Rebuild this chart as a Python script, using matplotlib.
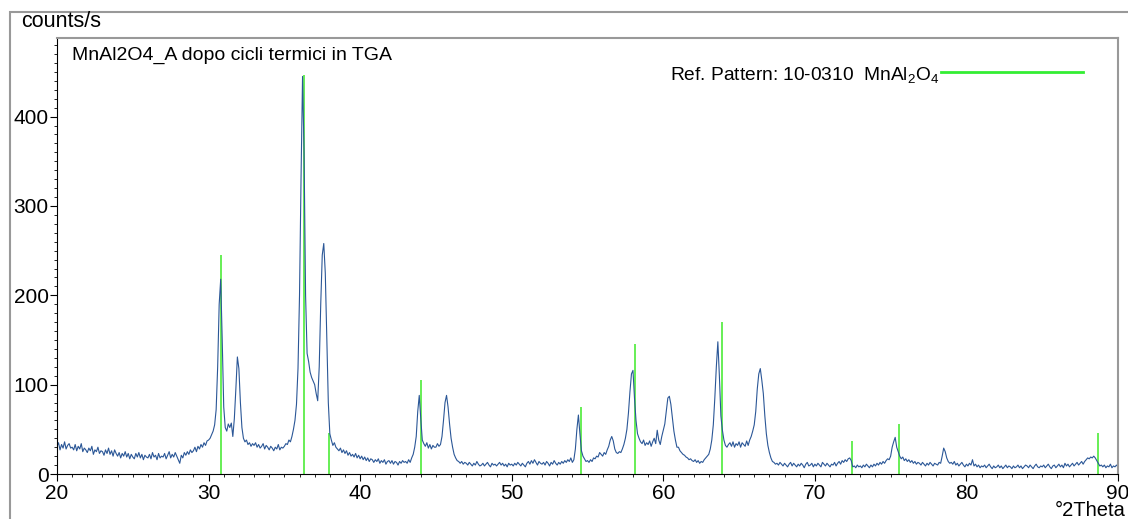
import numpy as np
import matplotlib.pyplot as plt
from matplotlib.patches import Rectangle

plt.rcParams['font.family'] = ['Liberation Sans', 'DejaVu Sans']
plt.rcParams['mathtext.default'] = 'regular'

# measured pattern, 0.1 deg steps, one row per degree (x.0 .. x.9)
counts_rows = [
    [31, 35, 27, 33, 29, 36, 28, 32, 34, 29],  # 20
    [30, 27, 33, 26, 31, 28, 34, 25, 29, 27],  # 21
    [24, 29, 26, 31, 22, 27, 25, 30, 23, 26],  # 22
    [25, 21, 27, 23, 29, 22, 26, 20, 27, 23],  # 23
    [20, 24, 18, 23, 20, 25, 19, 23, 17, 22],  # 24
    [19, 17, 23, 19, 24, 18, 22, 16, 21, 19],  # 25
    [18, 22, 17, 24, 19, 21, 16, 23, 18, 20],  # 26
    [19, 23, 17, 21, 25, 18, 22, 19, 24, 20],  # 27
    [16, 12, 21, 18, 24, 21, 25, 22, 27, 24],  # 28
    [26, 30, 25, 31, 28, 33, 30, 35, 32, 37],  # 29
    [38, 40, 44, 48, 55, 72, 120, 190, 218, 150],  # 30
    [75, 52, 48, 56, 52, 57, 42, 62, 95, 131],  # 31
    [118, 80, 52, 40, 36, 38, 33, 35, 31, 34],  # 32
    [32, 35, 30, 33, 29, 31, 34, 28, 32, 30],  # 33
    [27, 31, 29, 26, 30, 28, 33, 27, 30, 29],  # 34
    [31, 34, 33, 38, 36, 42, 50, 60, 78, 118],  # 35
    [200, 330, 445, 360, 200, 135, 126, 114, 108, 104],  # 36
    [100, 90, 82, 120, 190, 245, 258, 225, 150, 80],  # 37
    [45, 38, 32, 35, 30, 28, 26, 29, 24, 27],  # 38
    [23, 26, 21, 24, 20, 22, 19, 23, 18, 21],  # 39
    [17, 20, 16, 19, 15, 18, 14, 17, 16, 13],  # 40
    [16, 14, 17, 12, 15, 13, 16, 11, 14, 15],  # 41
    [12, 15, 11, 14, 13, 10, 14, 12, 15, 13],  # 42
    [14, 12, 16, 13, 18, 22, 30, 42, 70, 88],  # 43
    [62, 38, 34, 31, 35, 29, 33, 28, 32, 30],  # 44
    [30, 34, 31, 33, 42, 60, 80, 88, 75, 56],  # 45
    [40, 30, 22, 18, 15, 14, 12, 14, 11, 13],  # 46
    [12, 10, 13, 11, 9, 12, 10, 14, 11, 9],  # 47
    [10, 12, 9, 11, 13, 10, 8, 12, 10, 11],  # 48
    [9, 11, 13, 10, 12, 9, 11, 8, 12, 10],  # 49
    [11, 9, 12, 10, 13, 11, 9, 12, 10, 8],  # 50
    [12, 14, 11, 15, 12, 16, 13, 10, 14, 12],  # 51
    [11, 13, 10, 14, 12, 9, 13, 11, 15, 12],  # 52
    [10, 13, 11, 14, 12, 15, 13, 16, 14, 18],  # 53
    [13, 16, 28, 50, 66, 45, 26, 20, 17, 14],  # 54
    [15, 13, 16, 14, 18, 17, 20, 19, 24, 22],  # 55
    [20, 24, 22, 27, 31, 38, 42, 37, 28, 24],  # 56
    [23, 25, 24, 28, 33, 40, 50, 68, 92, 112],  # 57
    [116, 85, 60, 45, 40, 36, 34, 38, 32, 35],  # 58
    [33, 37, 31, 36, 40, 34, 49, 38, 33, 42],  # 59
    [49, 56, 70, 85, 87, 78, 63, 48, 38, 30],  # 60
    [30, 26, 24, 22, 21, 19, 18, 16, 17, 15],  # 61
    [14, 16, 13, 15, 12, 14, 13, 16, 18, 20],  # 62
    [22, 28, 38, 55, 85, 120, 148, 110, 65, 49],  # 63
    [38, 32, 30, 33, 35, 31, 36, 30, 34, 32],  # 64
    [36, 30, 35, 33, 31, 37, 32, 38, 42, 48],  # 65
    [55, 70, 95, 112, 118, 105, 90, 65, 45, 32],  # 66
    [24, 18, 14, 13, 11, 12, 10, 13, 11, 9],  # 67
    [12, 10, 8, 11, 13, 9, 12, 10, 8, 11],  # 68
    [9, 12, 10, 7, 11, 13, 9, 10, 12, 8],  # 69
    [11, 9, 12, 10, 8, 13, 11, 9, 12, 10],  # 70
    [8, 11, 10, 13, 9, 12, 14, 11, 15, 13],  # 71
    [16, 14, 17, 18, 15, 8, 9, 7, 10, 8],  # 72
    [9, 7, 10, 8, 11, 9, 7, 10, 8, 11],  # 73
    [9, 12, 10, 13, 11, 14, 12, 15, 17, 16],  # 74
    [20, 30, 36, 41, 30, 25, 20, 17, 19, 15],  # 75
    [17, 14, 16, 13, 15, 12, 14, 11, 13, 12],  # 76
    [10, 13, 11, 9, 12, 10, 13, 11, 9, 12],  # 77
    [11, 10, 13, 12, 20, 29, 25, 18, 14, 12],  # 78
    [13, 11, 14, 10, 12, 9, 11, 13, 10, 8],  # 79
    [11, 9, 12, 10, 16, 9, 11, 8, 10, 7],  # 80
    [9, 8, 10, 7, 9, 11, 8, 6, 9, 7],  # 81
    [8, 10, 7, 9, 6, 8, 10, 7, 9, 8],  # 82
    [6, 9, 7, 8, 10, 7, 9, 6, 8, 10],  # 83
    [9, 7, 10, 8, 6, 9, 11, 8, 7, 9],  # 84
    [8, 10, 7, 9, 11, 8, 6, 9, 10, 7],  # 85
    [9, 11, 8, 10, 7, 12, 9, 11, 8, 10],  # 86
    [12, 9, 11, 13, 10, 12, 14, 11, 14, 16],  # 87
    [18, 17, 19, 18, 20, 18, 15, 12, 9, 10],  # 88
    [8, 10, 7, 9, 8, 11, 7, 9, 8, 10],  # 89
    [8],  # 90
]
counts = np.array([v for row in counts_rows for v in row], dtype=float)
two_theta = np.round(np.arange(len(counts)) * 0.1 + 20.0, 1)

# reference pattern 10-0310 MnAl2O4 (stick positions / heights)
ref_pos = [30.81, 36.29, 37.94, 44.04, 54.59, 58.13, 63.86, 72.44, 75.57, 88.65]
ref_int = [245, 447, 46, 105, 75, 146, 170, 37, 56, 46]

W, H = 1128, 519
fig = plt.figure(figsize=(W / 100, H / 100), dpi=100)
fig.patches.append(Rectangle((10 / W, -0.1), 1.2, 1.1 - 12 / H, transform=fig.transFigure,
                             fill=False, edgecolor='#999999', lw=1.5))

ax = fig.add_axes([57 / W, 1 - 474 / H, (1118 - 57) / W, (474 - 38) / H])
ax.vlines(ref_pos, 0, ref_int, color='#66ee55', lw=1.4, zorder=1)
ax.plot(two_theta, counts, color='#2b5797', lw=0.8, zorder=2)

ax.set_xlim(20, 90)
ax.set_ylim(0, 488)
ax.set_xticks(np.arange(20, 91, 10))
ax.set_xticks(np.arange(20, 91, 1), minor=True)
ax.set_yticks(np.arange(0, 401, 100))
ax.set_yticks(np.arange(0, 481, 10), minor=True)
ax.tick_params(axis='both', which='major', labelsize=15, length=5, width=0.8, direction='out')
ax.tick_params(axis='both', which='minor', length=2.5, width=0.6, direction='out')
ax.tick_params(axis='x', pad=2)
ax.tick_params(axis='y', pad=1)
for s in ['top', 'right']:
    ax.spines[s].set_color('#999999')
    ax.spines[s].set_linewidth(1.5)

fig.text(21 / W, 1 - 22 / H, 'counts/s', fontsize=15.5, va='center', ha='left')
fig.text(72 / W, 1 - 55 / H, 'MnAl2O4_A dopo cicli termici in TGA', fontsize=14,
         va='center', ha='left')
fig.text(670 / W, 1 - 75 / H, 'Ref. Pattern: 10-0310  MnAl$_2$O$_4$', fontsize=13.8,
         va='center', ha='left')
fig.add_artist(plt.Line2D([941 / W, 1083 / W], [1 - 72 / H, 1 - 72 / H], color='#33ee33', lw=2))
fig.text(1126 / W, 1 - 510 / H, '°2Theta', fontsize=14.5, va='center', ha='right')

fig.savefig('out.png', dpi=100)
